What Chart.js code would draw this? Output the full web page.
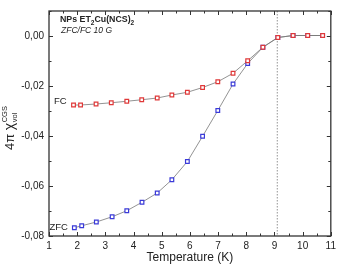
<!DOCTYPE html>
<html><head><meta charset="utf-8">
<script src="https://cdn.jsdelivr.net/npm/chart.js@4/dist/chart.umd.min.js"></script>
<style>html,body{margin:0;padding:0;background:#fff}#w{width:340px;height:264px}</style>
</head><body><div id="w"><canvas id="c" width="340" height="264"></canvas></div>
<script>
const fcT   = [1.87,2.12,2.67,3.21,3.76,4.29,4.84,5.36,5.91,6.45,6.99,7.53,8.05,8.59,9.12,9.66,10.18,10.71];
const fcChi = [-0.0276,-0.0276,-0.0272,-0.0267,-0.0261,-0.0255,-0.0248,-0.0236,-0.0225,-0.0206,-0.0183,-0.0149,-0.0099,-0.0045,-0.0006,0.0002,0.0002,0.0002];
const zfcT   = [1.90,2.16,2.68,3.24,3.76,4.30,4.84,5.36,5.91,6.45,6.99,7.53,8.05,8.59,9.12,9.66,10.18,10.71];
const zfcChi = [-0.0767,-0.0759,-0.0744,-0.0723,-0.0699,-0.0665,-0.0628,-0.0575,-0.0502,-0.0401,-0.0298,-0.0192,-0.0110,-0.0045,-0.0006,0.0002,0.0002,0.0002];
const xTicks = [1,2,3,4,5,6,7,8,9,10,11];
const yTicks = [-0.08,-0.06,-0.04,-0.02,0.00];
const TC = 9.1;
const FONT = "'Liberation Sans', Arial, sans-serif";

const pts = (xs, ys) => xs.map((x,i)=>({x, y: ys[i]}));

const deco = {
  id: 'deco',
  beforeDatasetsDraw(chart) {
    const {ctx, chartArea: a, scales: {x}} = chart;
    ctx.save();
    ctx.strokeStyle = '#777'; ctx.lineWidth = 0.8; ctx.setLineDash([1.5,1.5]);
    const px = x.getPixelForValue(TC);
    ctx.beginPath(); ctx.moveTo(px, a.top); ctx.lineTo(px, a.bottom); ctx.stroke();
    ctx.restore();
  },
  afterDatasetsDraw(chart) {
    const {ctx, chartArea: a, scales: {x, y}} = chart;
    ctx.save();
    ctx.strokeStyle = '#333'; ctx.lineWidth = 1.3;
    ctx.strokeRect(a.left, a.top, a.right - a.left, a.bottom - a.top);
    ctx.lineWidth = 1;
    ctx.beginPath();
    for (let v = 1; v <= 11.001; v += 0.5) {
      const p = Math.round(x.getPixelForValue(v)) + 0.5;
      const L = Math.abs(v - Math.round(v)) < 0.01 ? 4 : 2.5;
      ctx.moveTo(p, a.bottom); ctx.lineTo(p, a.bottom - L);
      ctx.moveTo(p, a.top); ctx.lineTo(p, a.top + L);
    }
    for (let v = -0.08; v <= 0.0101; v += 0.01) {
      const p = Math.round(y.getPixelForValue(v)) + 0.5;
      const major = Math.abs(v / 0.02 - Math.round(v / 0.02)) < 0.01;
      const L = major ? 4 : 2.5;
      ctx.moveTo(a.left, p); ctx.lineTo(a.left + L, p);
      ctx.moveTo(a.right, p); ctx.lineTo(a.right - L, p);
    }
    ctx.stroke();

    ctx.fillStyle = '#222';
    ctx.textBaseline = 'middle';
    ctx.font = '9.5px ' + FONT;
    ctx.fillText('FC', 54, 101.5);
    ctx.fillText('ZFC', 49.5, 227.5);

    let tx = 60;
    const ty = 20;
    const parts = [['NPs ET', false], ['2', true], ['Cu(NCS)', false], ['2', true]];
    for (const [t, sub] of parts) {
      ctx.font = 'bold ' + (sub ? '6.5px ' : '8.8px ') + FONT;
      ctx.fillText(t, tx, sub ? ty + 3 : ty);
      tx += ctx.measureText(t).width;
    }
    ctx.font = 'italic 8.5px ' + FONT;
    ctx.fillText('ZFC/FC 10 G', 61, 31);

    ctx.translate(14, 150);
    ctx.rotate(-Math.PI / 2);
    ctx.textBaseline = 'alphabetic';
    ctx.font = '13px ' + FONT;
    let w = 0;
    ctx.fillText('4\u03C0 ', 0, 0); w += ctx.measureText('4\u03C0 ').width;
    ctx.font = '14px ' + FONT;
    ctx.fillText('\u03C7', w, 0); w += ctx.measureText('\u03C7').width + 0.5;
    ctx.font = '7.5px ' + FONT;
    ctx.fillText('CGS', w, -7);
    ctx.fillText('vol', w, 3);
    ctx.restore();
  }
};

new Chart(document.getElementById('c'), {
  type: 'scatter',
  data: {
    datasets: [
      { label: 'FC', data: pts(fcT, fcChi), showLine: true, borderColor: '#777', borderWidth: 0.8,
        pointStyle: 'rect', pointRadius: 2.6, pointBorderColor: '#e03838', pointBackgroundColor: '#fff', pointBorderWidth: 1.2 },
      { label: 'ZFC', data: pts(zfcT, zfcChi), showLine: true, borderColor: '#777', borderWidth: 0.8,
        pointStyle: 'rect', pointRadius: 2.6, pointBorderColor: '#3a3ad8', pointBackgroundColor: '#fff', pointBorderWidth: 1.2 }
    ]
  },
  options: {
    responsive: false, animation: false, events: [],
    layout: { padding: { top: 5, right: 6, left: 0, bottom: 0 } },
    plugins: { legend: { display: false }, tooltip: { enabled: false } },
    scales: {
      x: {
        type: 'linear', min: 1, max: 11,
        afterBuildTicks: s => { s.ticks = xTicks.map(v => ({value: v})); },
        afterFit: s => { s.height = 28; },
        grid: { display: false, drawTicks: false },
        border: { display: false },
        ticks: { padding: 4, color: '#222', font: { family: FONT, size: 10 }, maxRotation: 0, callback: v => String(v) },
        title: { display: true, text: 'Temperature (K)', color: '#222', padding: { top: 0, bottom: -1 }, font: { family: FONT, size: 12 } }
      },
      y: {
        type: 'linear', min: -0.08, max: 0.010,
        afterBuildTicks: s => { s.ticks = yTicks.map(v => ({value: v})); },
        afterFit: s => { s.width = 49; },
        grid: { display: false, drawTicks: false },
        border: { display: false },
        ticks: { padding: 5, color: '#222', font: { family: FONT, size: 10 },
          callback: v => v.toFixed(2).replace('.', ',').replace('-0,00', '0,00') }
      }
    }
  },
  plugins: [deco]
});
</script></body></html>
